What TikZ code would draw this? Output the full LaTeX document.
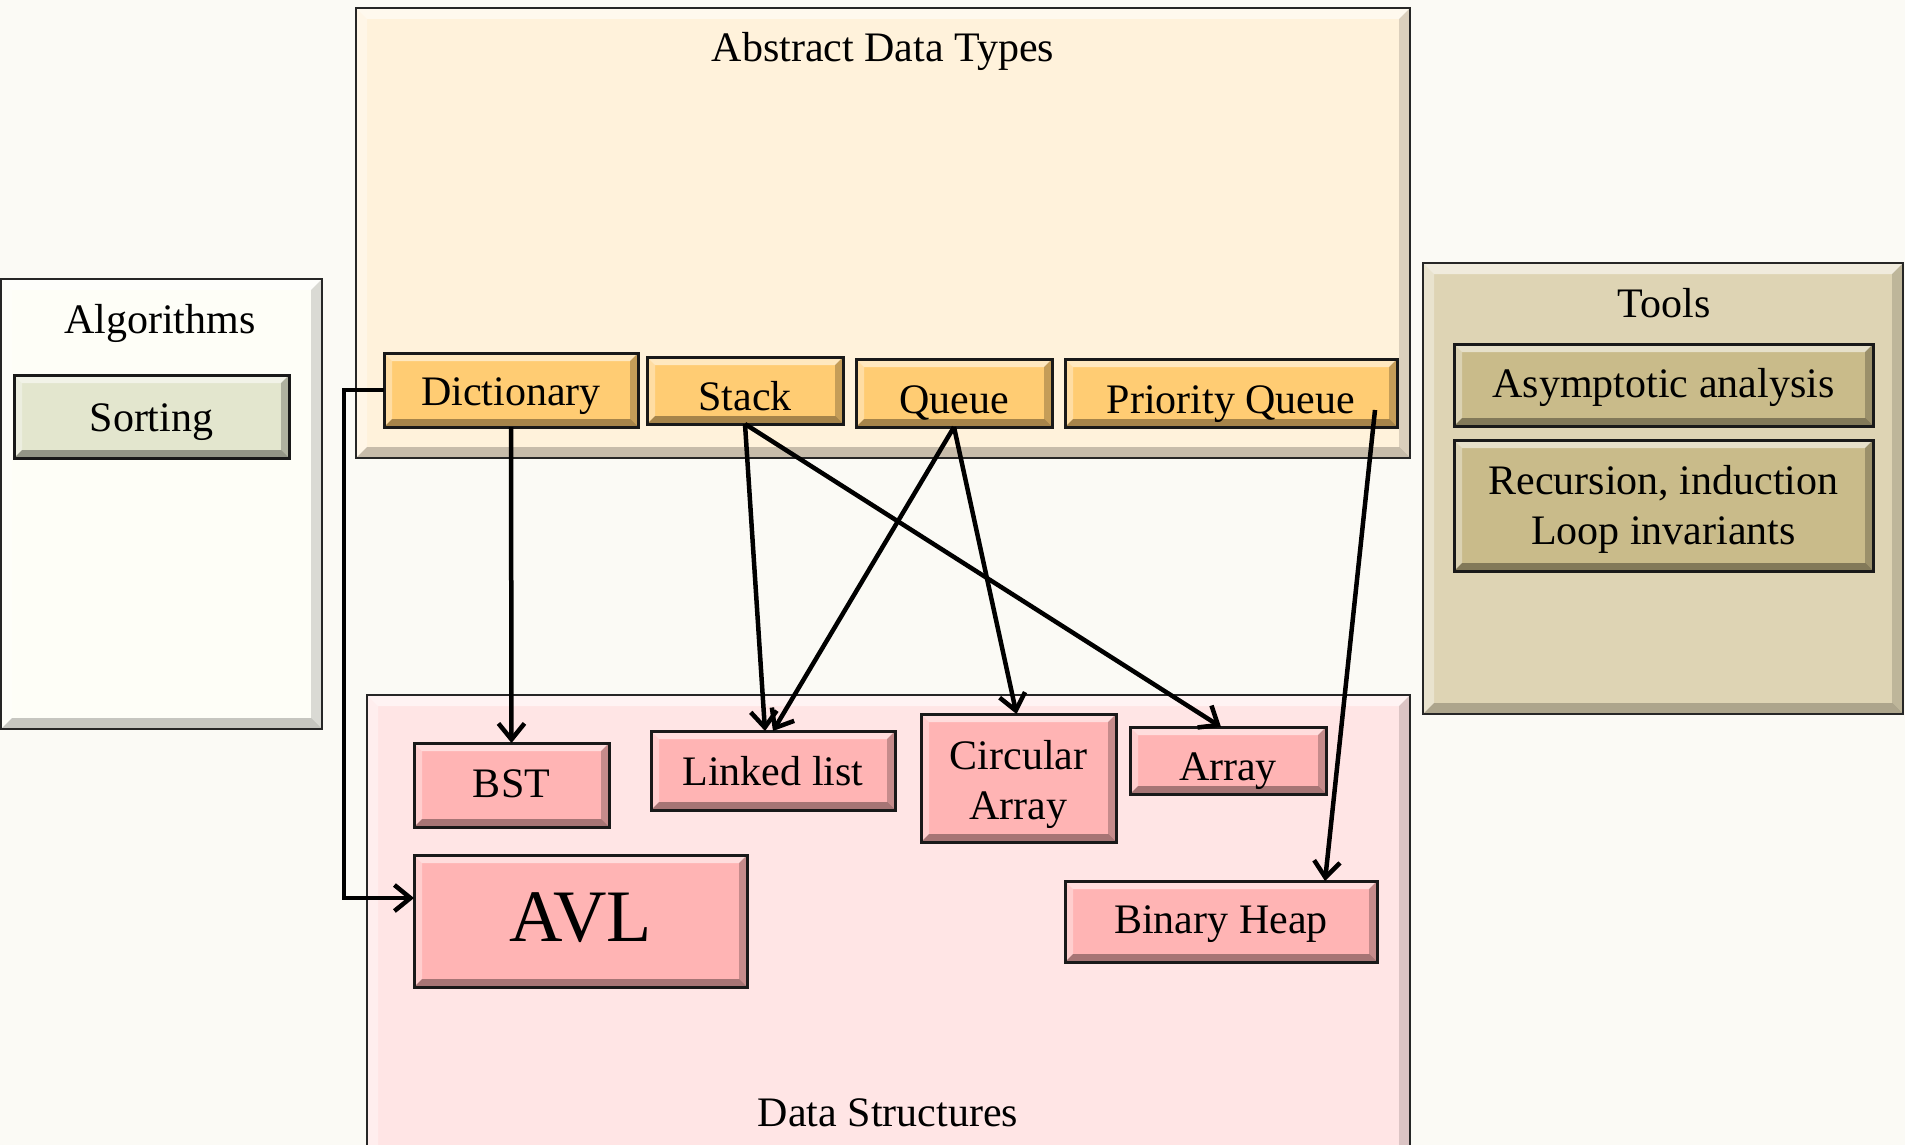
\documentclass[tikz,border=0pt]{standalone}
\usepackage{fontspec}
\setmainfont{Liberation Serif}
\usetikzlibrary{arrows.meta}

\definecolor{pagebg}{RGB}{251,250,245}
\definecolor{algfill}{RGB}{254,254,247}
\definecolor{sortfill}{RGB}{227,230,206}
\definecolor{adtfill}{RGB}{255,242,219}
\definecolor{adtitem}{RGB}{255,204,115}
\definecolor{toolfill}{RGB}{222,212,180}
\definecolor{toolitem}{RGB}{201,187,138}
\definecolor{dsfill}{RGB}{255,229,229}
\definecolor{dsitem}{RGB}{255,180,180}

\tikzset{
  bevel/.style 2 args={path picture={
    \def\bw{#1pt}
    \coordinate (q1) at (path picture bounding box.north west);
    \coordinate (q2) at (path picture bounding box.north east);
    \coordinate (q3) at (path picture bounding box.south east);
    \coordinate (q4) at (path picture bounding box.south west);
    \fill[white,opacity=.55] (q1) -- (q2) -- ([shift={(-\bw,-\bw)}]q2) -- ([shift={(\bw,-\bw)}]q1) -- cycle;
    \fill[white,opacity=.35] (q1) -- (q4) -- ([shift={(\bw,\bw)}]q4) -- ([shift={(\bw,-\bw)}]q1) -- cycle;
    \fill[black,opacity=#2*.65] (q2) -- (q3) -- ([shift={(-\bw,\bw)}]q3) -- ([shift={(-\bw,-\bw)}]q2) -- cycle;
    \fill[black,opacity=#2] (q4) -- (q3) -- ([shift={(-\bw,\bw)}]q3) -- ([shift={(\bw,\bw)}]q4) -- cycle;
  }},
  panel/.style={draw=black!85, line width=2.5pt, inner sep=0pt, outer sep=0pt, bevel={11}{.22}},
  item/.style={draw=black!90, line width=3pt, inner sep=0pt, outer sep=0pt, bevel={8}{.35},
    font=\fontsize{42}{50}\selectfont, text height=34pt, text depth=4pt},
  flat/.style={text height=40pt, text depth=0pt},
  deep/.style={text height=31pt, text depth=7pt},
  twoline/.style={item, align=center, text height=#1, text depth=8pt},
  heading/.style={font=\fontsize{42}{50}\selectfont, anchor=base, inner sep=0pt},
  link/.style={line width=4.5pt, -{Straight Barb[length=16pt,width=26pt]}},
}

\begin{document}
\begin{tikzpicture}[x=1pt,y=-1pt]
  \path[use as bounding box, clip] (0,0) rectangle (1905,1145);
  \fill[pagebg] (0,0) rectangle (1905,1145);

  % group panels
  \node[panel, fill=algfill, minimum width=321pt, minimum height=450pt] (alg) at (161.5,504) {};
  \node[panel, fill=adtfill, minimum width=1054pt, minimum height=450pt] (adt) at (883,233) {};
  \node[panel, fill=toolfill, minimum width=480pt, minimum height=451pt] (tools) at (1663,488.5) {};
  \node[panel, fill=dsfill, minimum width=1043pt, minimum height=475pt] (ds) at (888.5,932.5) {};

  % panel headings
  \node[heading] (algT) at (160,333) {Algorithms};
  \node[heading] (adtT) at (883,62) {Abstract Data Types};
  \node[heading] (toolsT) at (1664,317) {Tools};
  \node[heading] (dsT) at (888,1126) {Data Structures};

  % algorithms
  \node[item, fill=sortfill, minimum width=275pt, minimum height=83pt] (sort) at (151.5,416.5) {Sorting};

  % abstract data types
  \node[item, fill=adtitem, minimum width=254pt, minimum height=74pt] (dict) at (511,390) {Dictionary};
  \node[item, flat, fill=adtitem, minimum width=196pt, minimum height=67pt] (stack) at (745,390.5) {Stack};
  \node[item, flat, fill=adtitem, minimum width=196pt, minimum height=68pt] (queue) at (954,393) {Queue};
  \node[item, flat, fill=adtitem, minimum width=332pt, minimum height=68pt] (pq) at (1231,393) {Priority Queue};

  % tools
  \node[item, deep, fill=toolitem, minimum width=419pt, minimum height=82pt] (asym) at (1663.5,385) {Asymptotic analysis};
  \node[twoline=86pt, fill=toolitem, minimum width=419pt, minimum height=131pt] (rec) at (1663.5,505.5) {Recursion, induction\\Loop invariants};

  % data structures
  \node[item, deep, fill=dsitem, minimum width=195pt, minimum height=84pt] (bst) at (511.5,785) {BST};
  \node[item, fill=dsitem, minimum width=333pt, minimum height=132pt,
        font=\fontsize{74}{80}\selectfont, text height=50pt, text depth=10pt] (avl) at (580.5,921) {AVL};
  \node[item, fill=dsitem, minimum width=244pt, minimum height=79pt] (linked) at (773,770.5) {Linked list};
  \node[twoline=90pt, fill=dsitem, minimum width=195pt, minimum height=128pt] (circ) at (1018.5,778) {Circular\\Array};
  \node[item, flat, fill=dsitem, minimum width=196pt, minimum height=67pt] (arr) at (1228,760.5) {Array};
  \node[item, deep, fill=dsitem, minimum width=312pt, minimum height=81pt] (heap) at (1221,921.5) {Binary Heap};

  % implementation links
  \coordinate (pqsrc) at (1375,410);
  \draw[link] (dict.south) -- (bst.north);
  \draw[link] (dict.west) -- ++(-40pt,0) |- ([yshift=23pt]avl.west);
  \draw[link] (stack.south) -- ([xshift=-8pt]linked.north);
  \draw[link] (stack.south) -- ([xshift=-7pt]arr.north);
  \draw[link] (queue.south) -- (linked.north);
  \draw[link] (queue.south) -- ([xshift=-2pt]circ.north);
  \draw[link] (pqsrc) -- ([xshift=104pt]heap.north);
\end{tikzpicture}
\end{document}
